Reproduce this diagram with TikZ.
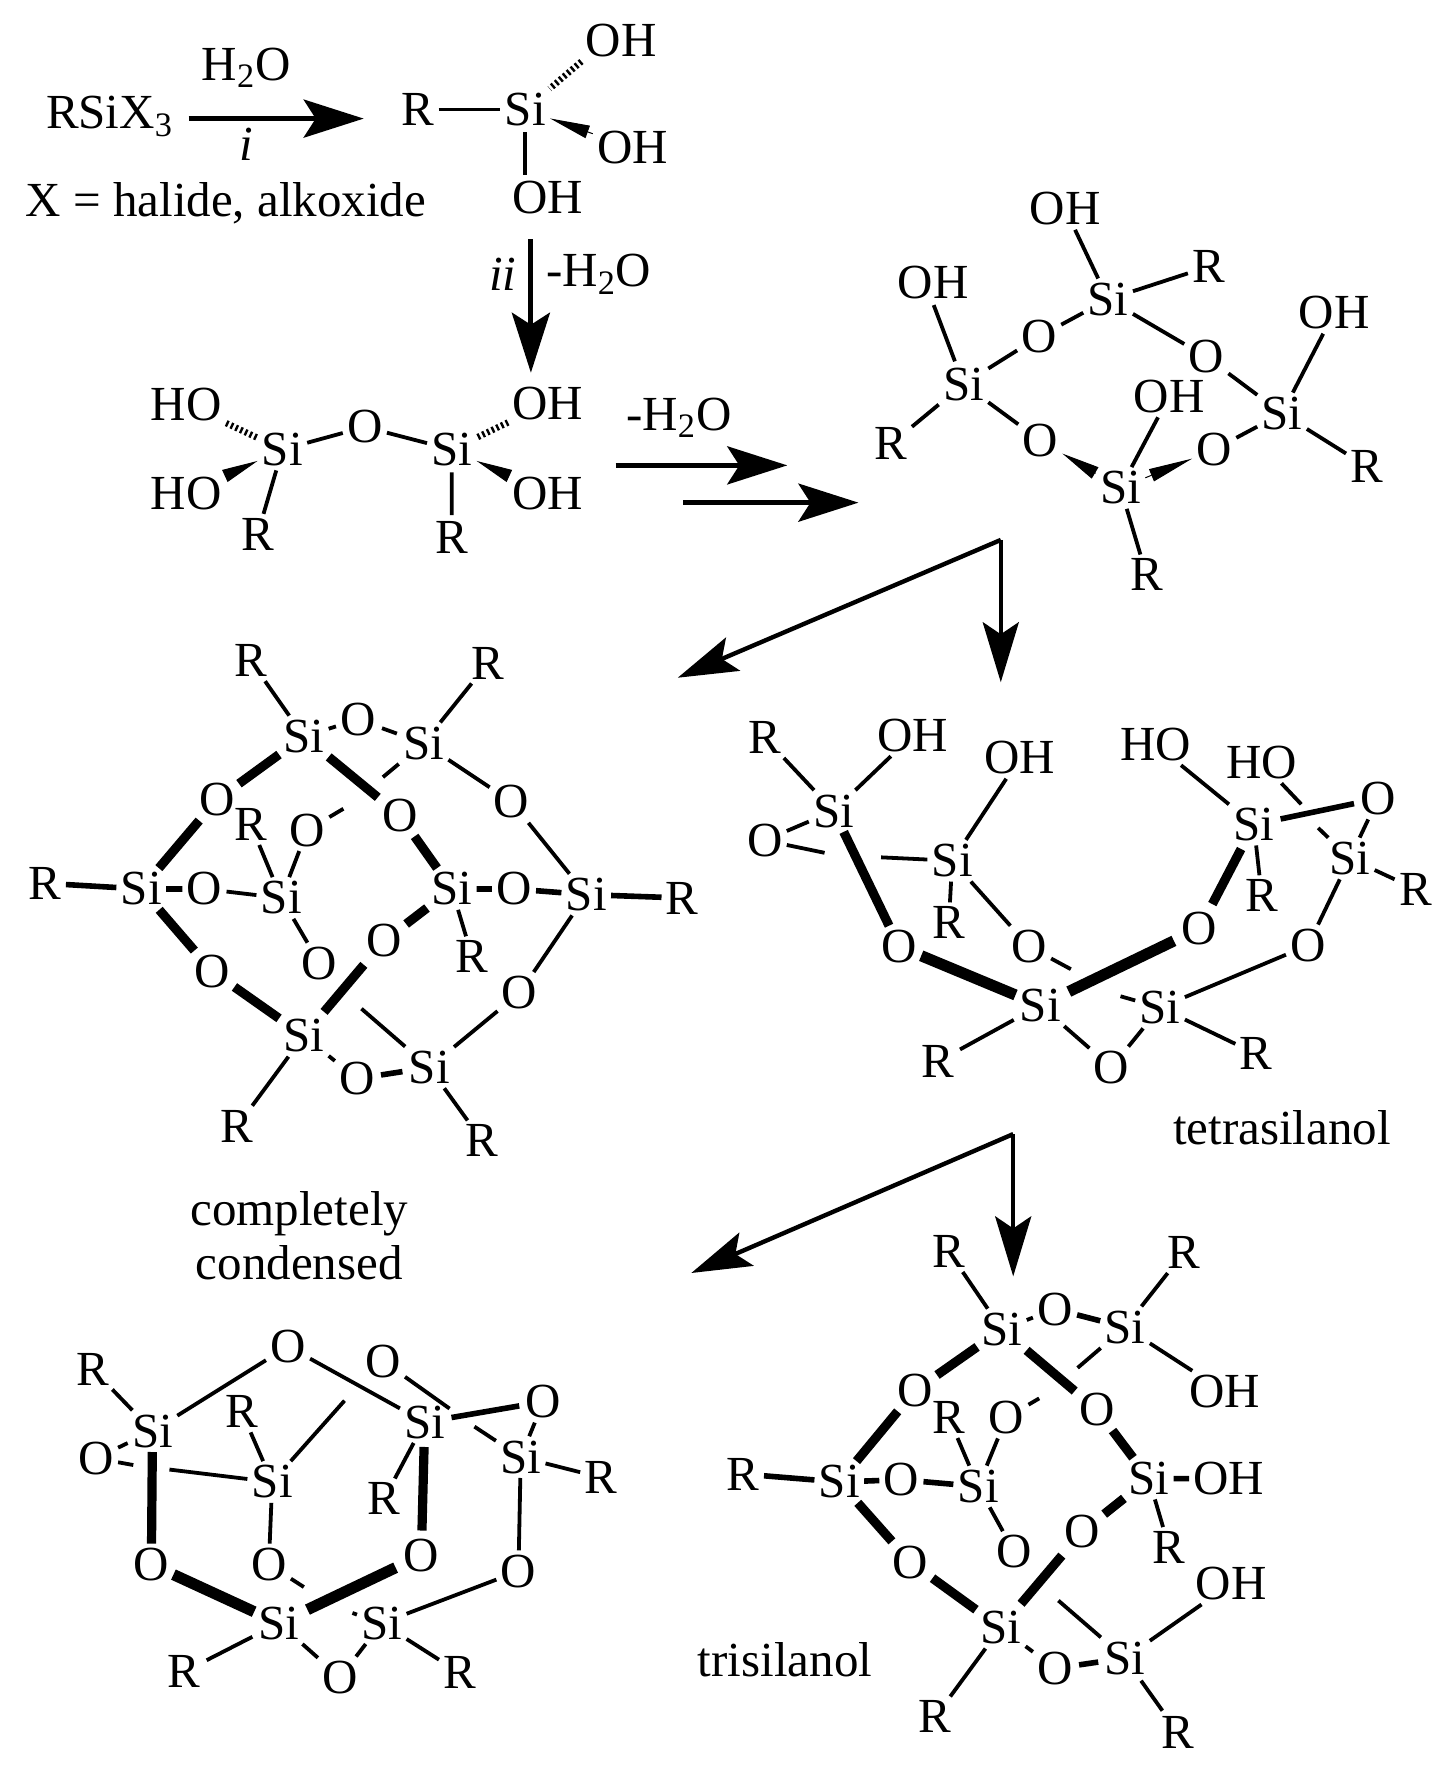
\documentclass[tikz,border=0pt]{standalone}
\usepackage{fontspec}
\setmainfont{Liberation Serif}
\usetikzlibrary{arrows.meta}

\tikzset{
    every node/.style={inner sep=2pt, font=\fontsize{24.5}{27}\selectfont},
    bond/.style={line width=1.9pt, shorten <=1pt, shorten >=1pt},
    midbond/.style={line width=2.8pt, shorten <=1pt, shorten >=1pt},
    heavybond/.style={line width=4.6pt, shorten <=2pt, shorten >=2pt},
    hugebond/.style={line width=5.6pt, shorten <=2pt, shorten >=2pt},
    hashbond/.style={line width=3.2pt, dash pattern=on 1.2pt off 1.4pt},
    wedgebond/.style={line width=0.5pt, -{Triangle[length=#1, width=6.5pt]}},
    rxn/.style={line width=2.6pt, -{Stealth[length=30pt, width=19pt, inset=6pt]}},
    forkarrow/.style={line width=2.2pt, -{Stealth[length=30pt, width=18pt, inset=6pt]}},
}

\begin{document}
\begin{tikzpicture}[x=0.5648pt, y=-0.5648pt]
    \useasboundingbox (0,0) rectangle (1280,1567);

    % hydrolysis
    \node (rsix) at (97,103) {RSiX\textsubscript{3}};
    \node (water) at (218,60) {H\textsubscript{2}O};
    \node (stepi) at (218,128) {\textit{i}};
    \node (halide) at (200,180) {X = halide, alkoxide};
    \node (r1) at (370,97) {R};
    \node (si1) at (465,97) {Si};
    \node (oh1) at (550,36) {OH};
    \node (oh2) at (560,131) {OH};
    \node (oh3) at (485,175) {OH};
    \draw [rxn] (167,105) coordinate (arrAs) -- (322,105) coordinate (arrAe);
    \draw [bond] (r1) -- (si1) (si1) -- (si1 |- oh3.north);
    \draw [hashbond] (oh1.south west) -- (si1);
    \draw [wedgebond=20pt] (oh2) -- (si1);

    % dimer
    \node (stepii) at (445,243) {\textit{ii}};
    \node (lossA) at (530,243) {-H\textsubscript{2}O};
    \node (ho1) at (165,358) {HO};
    \node (ho2) at (165,437) {HO};
    \node (si2) at (250,398) {Si};
    \node (o1) at (323,378) {O};
    \node (si3) at (400,398) {Si};
    \node (oh4) at (485,357) {OH};
    \node (oh5) at (485,437) {OH};
    \node (r2) at (228,473) {R};
    \node (r3) at (400,476) {R};
    \draw [rxn] (470,212) coordinate (arrBs) -- (470,330) coordinate (arrBe);
    \draw [bond] (si2) -- (o1) (o1) -- (si3) (si2) -- (r2) (si3) -- (r3);
    \draw [hashbond] (ho1) -- (si2) (oh4) -- (si3);
    \draw [wedgebond=18pt] (ho2) -- (si2);
    \draw [wedgebond=18pt] (oh5) -- (si3);
    \node (lossB) at (601,370) {-H\textsubscript{2}O};
    \draw [rxn] (545,412) coordinate (arrCs) -- (697,412) coordinate (arrCe);
    \draw [rxn] (605,445) coordinate (arrDs) -- (760,445) coordinate (arrDe);

    % ring
    \node (pOH1) at (943,185) {OH};
    \node (pR1) at (1070,236) {R};
    \node (pSi1) at (981,265) {Si};
    \node (pOH2) at (826,250) {OH};
    \node (pO1) at (920,298) {O};
    \node (pO2) at (1068,316) {O};
    \node (pOH3) at (1181,277) {OH};
    \node (pSi2) at (853,340) {Si};
    \node (pSi3) at (1135,366) {Si};
    \node (pOH4) at (1035,351) {OH};
    \node (pO3) at (921,390) {O};
    \node (pO4) at (1075,398) {O};
    \node (pR2) at (789,393) {R};
    \node (pR3) at (1210,413) {R};
    \node (pSi4) at (992,432) {Si};
    \node (pR4) at (1015,509) {R};
    \draw [bond] (pOH1) -- (pSi1) (pSi1) -- (pR1) (pSi1) -- (pO1) (pSi1) -- (pO2)
        (pO2) -- (pSi3) (pSi3) -- (pOH3) (pSi3) -- (pR3) (pSi3) -- (pO4)
        (pSi4) -- (pOH4) (pSi4) -- (pR4) (pO3) -- (pSi2) (pSi2) -- (pR2)
        (pSi2) -- (pO1) (pSi2) -- (pOH2.south);
    \draw [wedgebond=19pt] (pSi4) -- (pO3);
    \draw [wedgebond=22pt] (pSi4) -- (pO4);

    % first fork
    \coordinate (forkA) at (886,478);
    \coordinate (forkAl) at (600,600);
    \coordinate (forkAd) at (886,604);
    \draw [forkarrow] (forkA) -- (forkAl);
    \draw [forkarrow] (forkA) -- (forkAd);

    % completely condensed cage
    \node (cR1) at (222,585) {R};
    \node (cR2) at (432,587) {R};
    \node (cSi1) at (269,652) {Si};
    \node (cO1) at (317,637) {O};
    \node (cSi2) at (375,658) {Si};
    \node (cO2) at (192,708) {O};
    \node (cR3) at (222,730) {R};
    \node (cO3) at (272,735) {O};
    \node (cO4) at (354,722) {O};
    \node (cO5) at (453,710) {O};
    \node (cR4) at (40,782) {R};
    \node (cSi3) at (125,787) {Si};
    \node (cO6) at (181,787) {O};
    \node (cSi4) at (249,795) {Si};
    \node (cSi5) at (400,787) {Si};
    \node (cO7) at (455,787) {O};
    \node (cSi6) at (519,792) {Si};
    \node (cR5) at (604,795) {R};
    \node (cO8) at (340,833) {O};
    \node (cR6) at (418,847) {R};
    \node (cO9) at (188,860) {O};
    \node (cO10) at (283,853) {O};
    \node (cO11) at (460,879) {O};
    \node (cSi7) at (269,917) {Si};
    \node (cSi8) at (380,945) {Si};
    \node (cO12) at (316,955) {O};
    \node (cR7) at (210,997) {R};
    \node (cR8) at (427,1010) {R};
    \node (cLabel) at (265,1094) [align=center] {completely\\condensed};
    \coordinate (cGapA) at (339,688);
    \coordinate (cGapB) at (304,716);
    \coordinate (cEnd) at (320,893);
    \draw [bond] (cR1) -- (cSi1) (cSi2) -- (cR2) (cSi2) -- (cO5) (cO5) -- (cSi6)
        (cSi2) -- (cGapA) (cGapB) -- (cO3) (cO3) -- (cSi4) (cR3) -- (cSi4)
        (cSi4) -- (cO10) (cO6) -- (cSi4) (cSi5) -- (cR6) (cSi6) -- (cO11)
        (cO11) -- (cSi8) (cEnd) -- (cSi8) (cSi7) -- (cO12) (cSi7) -- (cR7)
        (cSi8) -- (cR8) (cSi1) -- (cO1) (cO1) -- (cSi2);
    \draw [midbond] (cR4) -- (cSi3) (cSi3) -- (cO6) (cSi5) -- (cO7) (cO7) -- (cSi6)
        (cSi6) -- (cR5) (cO12) -- (cSi8);
    \draw [heavybond] (cSi1) -- (cO2) (cSi1) -- (cO4) (cO2) -- (cSi3) (cSi3) -- (cO9)
        (cO9) -- (cSi7) (cO4) -- (cSi5) (cSi5) -- (cO8) (cO8) -- (cSi7);

    % tetrasilanol
    \node (tR1) at (677,653) {R};
    \node (tOH1) at (808,651) {OH};
    \node (tOH2) at (903,671) {OH};
    \node (tHO1) at (1023,659) {HO};
    \node (tHO2) at (1117,675) {HO};
    \node (tO1) at (1220,707) {O};
    \node (tSi1) at (738,718) {Si};
    \node (tO2) at (677,744) {O};
    \node (tSi2) at (843,762) {Si};
    \node (tSi3) at (1110,730) {Si};
    \node (tSi4) at (1195,760) {Si};
    \node (tR2) at (840,817) {R};
    \node (tR3) at (1117,793) {R};
    \node (tR4) at (1253,787) {R};
    \node (tO3) at (796,838) {O};
    \node (tO4) at (911,838) {O};
    \node (tO5) at (1062,822) {O};
    \node (tO6) at (1158,837) {O};
    \node (tSi5) at (921,890) {Si};
    \node (tSi6) at (1027,892) {Si};
    \node (tR5) at (830,940) {R};
    \node (tR6) at (1112,933) {R};
    \node (tO7) at (984,945) {O};
    \node (tLabel) at (1135,998) {tetrasilanol};
    \coordinate (tGapA) at (730,755);
    \coordinate (tGapB) at (780,759);
    \coordinate (tGapC) at (1152,712);
    \coordinate (tGapD) at (1167,733);
    \coordinate (tGapE) at (948,858);
    \coordinate (tGapF) at (992,882);
    \draw [bond] (tR1) -- (tSi1) (tSi1) -- (tOH1) (tSi1) -- (tO2) (tO2) -- (tGapA)
        (tGapB) -- (tSi2) (tSi2) -- (tOH2) (tSi2) -- (tR2) (tSi2) -- (tO4)
        (tO4) -- (tGapE) (tGapF) -- (tSi6) (tHO1) -- (tSi3) (tSi3) -- (tR3)
        (tHO2) -- (tGapC) (tGapD) -- (tSi4) (tO1) -- (tSi4) (tSi4) -- (tR4)
        (tSi4) -- (tO6) (tO6) -- (tSi6) (tSi6) -- (tR6) (tSi6) -- (tO7)
        (tSi5) -- (tO7) (tSi5) -- (tR5);
    \draw [midbond] (tSi3) -- (tO1);
    \draw [heavybond] (tSi1) -- (tO3) (tO5) -- (tSi3);
    \draw [hugebond] (tO3) -- (tSi5) (tSi5) -- (tO5);

    % second fork
    \coordinate (forkB) at (897,1004);
    \coordinate (forkBl) at (612,1127);
    \coordinate (forkBd) at (897,1130);
    \draw [forkarrow] (forkB) -- (forkBl);
    \draw [forkarrow] (forkB) -- (forkBd);

    % open cage
    \node (bO1) at (255,1192) {O};
    \node (bO2) at (339,1205) {O};
    \node (bR1) at (82,1212) {R};
    \node (bR2) at (214,1250) {R};
    \node (bSi1) at (135,1267) {Si};
    \node (bSi2) at (376,1259) {Si};
    \node (bO3) at (481,1241) {O};
    \node (bSi3) at (461,1290) {Si};
    \node (bO4) at (85,1291) {O};
    \node (bSi4) at (241,1312) {Si};
    \node (bR3) at (340,1327) {R};
    \node (bR4) at (532,1308) {R};
    \node (bO5) at (134,1385) {O};
    \node (bO6) at (238,1385) {O};
    \node (bO7) at (373,1377) {O};
    \node (bO8) at (459,1391) {O};
    \node (bSi5) at (247,1437) {Si};
    \node (bSi6) at (338,1437) {Si};
    \node (bR5) at (163,1480) {R};
    \node (bR6) at (407,1481) {R};
    \node (bO9) at (301,1485) {O};
    \coordinate (bGapA) at (118,1297);
    \coordinate (bGapB) at (150,1301);
    \coordinate (bGapC) at (269,1405);
    \coordinate (bGapD) at (312,1428);
    \coordinate (bGapE) at (398,1247);
    \coordinate (bGapF) at (420,1263);
    \coordinate (bEnd) at (305,1240);
    \draw [bond] (bR1) -- (bSi1) (bSi1) -- (bO1) (bO1) -- (bSi2) (bSi1) -- (bO4)
        (bO4) -- (bGapA) (bGapB) -- (bSi4) (bR2) -- (bSi4) (bSi4) -- (bEnd)
        (bSi4) -- (bO6) (bO6) -- (bGapC) (bGapD) -- (bSi6) (bSi2) -- (bR3)
        (bO2) -- (bGapE) (bGapF) -- (bSi3) (bO3) -- (bSi3) (bSi3) -- (bR4)
        (bSi3) -- (bO8) (bO8) -- (bSi6) (bSi6) -- (bR6) (bSi6) -- (bO9)
        (bSi5) -- (bO9) (bSi5) -- (bR5);
    \draw [midbond] (bSi2) -- (bO3);
    \draw [heavybond] (bSi1) -- (bO5) (bO7) -- (bSi2);
    \draw [hugebond] (bO5) -- (bSi5) (bSi5) -- (bO7);

    % trisilanol
    \node (sR1) at (840,1108) {R};
    \node (sR2) at (1048,1109) {R};
    \node (sSi1) at (887,1177) {Si};
    \node (sO1) at (934,1159) {O};
    \node (sSi2) at (996,1175) {Si};
    \node (sO2) at (810,1231) {O};
    \node (sOH1) at (1084,1232) {OH};
    \node (sR3) at (840,1255) {R};
    \node (sO3) at (891,1255) {O};
    \node (sO4) at (971,1248) {O};
    \node (sR4) at (658,1305) {R};
    \node (sSi3) at (743,1312) {Si};
    \node (sO5) at (798,1310) {O};
    \node (sSi4) at (866,1316) {Si};
    \node (sSi5) at (1017,1309) {Si};
    \node (sOH2) at (1088,1309) {OH};
    \node (sO6) at (958,1356) {O};
    \node (sR5) at (1035,1370) {R};
    \node (sO7) at (898,1374) {O};
    \node (sO8) at (806,1383) {O};
    \node (sOH3) at (1090,1402) {OH};
    \node (sSi6) at (886,1441) {Si};
    \node (sSi7) at (996,1468) {Si};
    \node (sO9) at (934,1477) {O};
    \node (sR6) at (828,1520) {R};
    \node (sR7) at (1043,1534) {R};
    \node (sLabel) at (695,1469) {trisilanol};
    \coordinate (sGapA) at (954,1211);
    \coordinate (sGapB) at (920,1238);
    \coordinate (sEnd) at (937,1417);
    \draw [bond] (sR1) -- (sSi1) (sSi1) -- (sO1) (sSi2) -- (sR2) (sSi2) -- (sOH1)
        (sSi2) -- (sGapA) (sGapB) -- (sO3) (sO3) -- (sSi4) (sR3) -- (sSi4)
        (sSi4) -- (sO7) (sSi5) -- (sR5) (sSi7) -- (sOH3) (sEnd) -- (sSi7)
        (sSi6) -- (sO9) (sSi6) -- (sR6) (sSi7) -- (sR7);
    \draw [midbond] (sO1) -- (sSi2) (sR4) -- (sSi3) (sSi3) -- (sO5) (sO5) -- (sSi4)
        (sSi5) -- (sOH2) (sO9) -- (sSi7);
    \draw [heavybond] (sSi1) -- (sO2) (sSi1) -- (sO4) (sO2) -- (sSi3) (sSi3) -- (sO8)
        (sO8) -- (sSi6) (sO4) -- (sSi5) (sSi5) -- (sO6) (sO6) -- (sSi6);
\end{tikzpicture}
\end{document}
